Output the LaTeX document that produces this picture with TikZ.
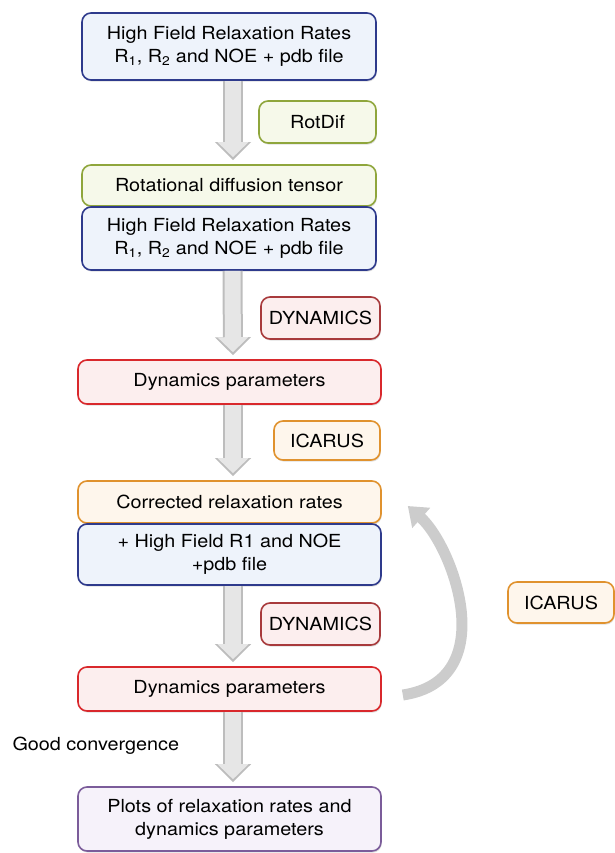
\documentclass[tikz,border=0pt]{standalone}
\usepackage{fontspec}
\setmainfont[FakeStretch=1.1]{TeX Gyre Heros}
\usetikzlibrary{arrows.meta,positioning,shadows}
\definecolor{lineblue}{HTML}{2E3A8C}
\definecolor{fillblue}{HTML}{EEF3FB}
\definecolor{linegreen}{HTML}{8FA63C}
\definecolor{fillgreen}{HTML}{F6F9EA}
\definecolor{linedred}{HTML}{A83A3C}
\definecolor{linered}{HTML}{D9282C}
\definecolor{fillred}{HTML}{FCEEEE}
\definecolor{lineorange}{HTML}{E0922E}
\definecolor{fillorange}{HTML}{FEF6EC}
\definecolor{linepurple}{HTML}{7B5C9A}
\definecolor{fillpurple}{HTML}{F6F2FA}
\definecolor{arrowgray}{HTML}{E6E6E6}
\definecolor{arrowedge}{HTML}{BDBDBD}

\begin{document}
\begin{tikzpicture}[x=1pt,y=1pt,
  font=\fontsize{18}{23}\selectfont,
  every node/.style={align=center},
  flowbox/.style={rounded corners=9pt,line width=1.6pt,inner sep=0pt,
              drop shadow={shadow xshift=0.8pt,shadow yshift=-1.6pt,opacity=0.25}},
  mainbox/.style={flowbox,minimum width=303pt},
  tagbox/.style={flowbox,minimum height=41pt},
  hfbox/.style={mainbox,draw=lineblue,fill=fillblue},
  grbox/.style={draw=linegreen,fill=fillgreen},
  rdbox/.style={draw=linered,fill=fillred},
  dkbox/.style={draw=linedred,fill=fillred},
  orbox/.style={draw=lineorange,fill=fillorange},
  downarrow/.style={line width=16pt,draw=arrowgray,shorten >=7pt,
              -{Triangle[width=30pt,length=15pt]},
              preaction={draw=arrowedge,line width=20pt,shorten >=4pt,
              -{Triangle[width=35pt,length=18pt]}}},
  backarrow/.style={line width=11pt,draw=gray!40,
              -{Triangle[width=26pt,length=18pt]}}
]
\useasboundingbox (0,0) rectangle (614,-853);

% Main column
\node[hfbox,minimum width=294pt,minimum height=67pt] (hfa) at (229,-46.5)
  {High Field Relaxation Rates\\R\textsubscript{1}, R\textsubscript{2} and NOE + pdb file};
\node[mainbox,grbox,minimum width=294pt,minimum height=41pt] (rot) at (229,-185.5)
  {Rotational diffusion tensor};
\node[hfbox,minimum width=294pt,minimum height=63pt] (hfb) at (229,-238.5)
  {High Field Relaxation Rates\\R\textsubscript{1}, R\textsubscript{2} and NOE + pdb file};
\node[mainbox,rdbox,minimum height=44pt] (dyna) at (229.5,-382)
  {Dynamics parameters};
\node[mainbox,orbox,minimum height=42pt] (corr) at (229.5,-502)
  {Corrected relaxation rates};
\node[hfbox,minimum height=61pt] (hfc) at (229.5,-554.5)
  {+ High Field R1 and NOE\\+pdb file};
\node[mainbox,rdbox,minimum height=44pt] (dynb) at (229.5,-689)
  {Dynamics parameters};
\node[mainbox,draw=linepurple,fill=fillpurple,minimum height=64pt] (plots) at (229.5,-819)
  {Plots of relaxation rates and\\dynamics parameters};

% Program tags
\node[tagbox,grbox,minimum width=117pt,minimum height=42pt] (rotdif) at (317.5,-122) {RotDif};
\node[tagbox,dkbox,minimum width=119pt,minimum height=42pt] (dynprga) at (320.5,-318) {DYNAMICS};
\node[tagbox,orbox,minimum width=106pt,minimum height=39pt] (icara) at (327,-440.5) {ICARUS};
\node[tagbox,dkbox,minimum width=119pt,minimum height=42pt] (dynprgb) at (320.5,-624) {DYNAMICS};
\node[tagbox,orbox,minimum width=106pt,minimum height=41pt] (icarb) at (561,-602.5) {ICARUS};
\node[anchor=west] (conv) at (9,-746) {Good convergence};

% Flow arrows
\draw[downarrow] ([xshift=4pt]hfa.south) -- ([xshift=4pt]rot.north);
\draw[downarrow] ([xshift=3.5pt]hfb.south) -- ([xshift=3.5pt]dyna.north);
\draw[downarrow] ([xshift=3.5pt]dyna.south) -- ([xshift=3.5pt]corr.north);
\draw[downarrow] ([xshift=3.5pt]hfc.south) -- ([xshift=3.5pt]dynb.north);
\draw[downarrow] ([xshift=3.5pt]dynb.south) -- ([xshift=3.5pt]plots.north);

% Iteration loop
\draw[backarrow] ([xshift=21pt,yshift=-6pt]dynb.east)
  .. controls +(100,15) and +(45,-40) .. ([xshift=26pt,yshift=-4pt]corr.east);
\end{tikzpicture}
\end{document}
